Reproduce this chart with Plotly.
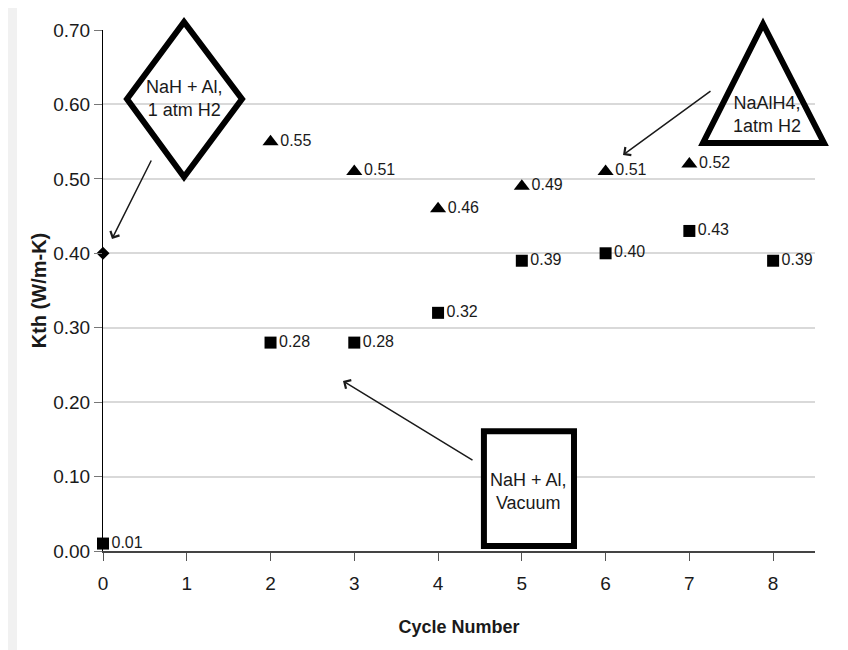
import plotly.graph_objects as go

# Dados
ciclos_naalh4 = [2, 3, 4, 5, 6, 7]
kth_naalh4 = [0.55, 0.51, 0.46, 0.49, 0.51, 0.52]

ciclos_vacuo = [0, 2, 3, 4, 5, 6, 7, 8]
kth_vacuo = [0.01, 0.28, 0.28, 0.32, 0.39, 0.40, 0.43, 0.39]

ciclos_h2 = [0]
kth_h2 = [0.40]

x_ticks = list(range(0, 9))
y_ticks = [0.0, 0.1, 0.2, 0.3, 0.4, 0.5, 0.6, 0.7]

FONTE = "Liberation Sans, Arial, sans-serif"
COR_TEXTO = "#1a1a1a"

fig = go.Figure()


def serie(x, y, simbolo, tamanho):
    return go.Scatter(
        x=x,
        y=y,
        mode="markers+text",
        marker=dict(symbol=simbolo, size=tamanho, color="black"),
        text=[f"{v:.2f}" for v in y],
        textposition="middle right",
        textfont=dict(size=16, color=COR_TEXTO, family=FONTE),
        cliponaxis=False,
        showlegend=False,
    )


fig.add_trace(serie(ciclos_vacuo, kth_vacuo, "square", 12))
fig.add_trace(serie(ciclos_naalh4, kth_naalh4, "triangle-up", 14))
fig.add_trace(
    go.Scatter(
        x=ciclos_h2,
        y=kth_h2,
        mode="markers",
        marker=dict(symbol="diamond", size=10, color="black"),
        cliponaxis=False,
        showlegend=False,
    )
)

# Fundo cinza com painel branco
fig.add_shape(type="rect", xref="paper", yref="paper", x0=-0.1208, x1=1.1, y0=-0.3, y1=1.1,
              fillcolor="white", line_width=0, layer="below")

# Formas grandes das legendas (losango, triângulo, retângulo)
fig.add_shape(type="path", xref="paper", yref="paper",
              path="M 0.0337 0.8676 L 0.1138 1.0154 L 0.1952 0.8676 L 0.1138 0.7179 Z",
              line=dict(color="black", width=6), fillcolor="rgba(0,0,0,0)")
fig.add_shape(type="path", xref="paper", yref="paper",
              path="M 0.927 1.0115 L 1.0126 0.7831 L 0.8427 0.7831 Z",
              line=dict(color="black", width=6), fillcolor="rgba(0,0,0,0)")
fig.add_shape(type="rect", xref="paper", yref="paper", x0=0.535, x1=0.6615, y0=0.0096, y1=0.230,
              line=dict(color="black", width=6), fillcolor="white")

rotulos = [
    dict(x=0.1138, y=0.8676, text="NaH + Al,<br>1 atm H2"),
    dict(x=0.9326, y=0.837, text="NaAlH4,<br>1atm H2"),
    dict(x=0.597, y=0.115, text="NaH + Al,<br>Vacuum"),
]
for r in rotulos:
    fig.add_annotation(xref="paper", yref="paper", showarrow=False, xanchor="center", yanchor="middle",
                       font=dict(size=18, color=COR_TEXTO, family=FONTE), **r)

# Setas
setas = [
    dict(x=(112 - 103) / 712, y=(551 - 239) / 521, ax=40, ay=-80),
    dict(x=(623 - 103) / 712, y=(551 - 155) / 521, ax=89, ay=-65),
    dict(x=(343 - 103) / 712, y=(551 - 381) / 521, ax=131, ay=80),
]
for s in setas:
    fig.add_annotation(xref="paper", yref="paper", text="", showarrow=True,
                       arrowhead=4, arrowsize=1.3, arrowwidth=1.5, arrowcolor=COR_TEXTO, **s)

fig.update_xaxes(
    range=[0, 8.5],
    tickvals=x_ticks,
    ticks="outside",
    ticklen=8,
    tickcolor="#555555",
    ticklabelstandoff=6,
    showline=True,
    linecolor="#444444",
    linewidth=1.5,
    showgrid=False,
    zeroline=False,
    tickfont=dict(size=19, color=COR_TEXTO, family=FONTE),
    title=dict(text="<b>Cycle Number</b>", font=dict(size=18, color=COR_TEXTO, family=FONTE),
               standoff=28),
)
fig.update_yaxes(
    range=[0, 0.7],
    tickvals=y_ticks,
    tickformat=".2f",
    ticks="outside",
    ticklen=8,
    tickcolor="#777777",
    showline=True,
    linecolor="black",
    showgrid=True,
    gridcolor="#d9d9d9",
    gridwidth=1.5,
    zeroline=False,
    tickfont=dict(size=19, color=COR_TEXTO, family=FONTE),
    title=dict(text="<b>Kth (W/m-K)</b>", font=dict(size=20, color=COR_TEXTO, family=FONTE),
               standoff=1),
)

fig.update_layout(
    width=848,
    height=650,
    margin=dict(l=95, r=41, t=22, b=107),
    paper_bgcolor="#f1f1f1",
    plot_bgcolor="rgba(0,0,0,0)",
)

fig.write_html("out.html")
